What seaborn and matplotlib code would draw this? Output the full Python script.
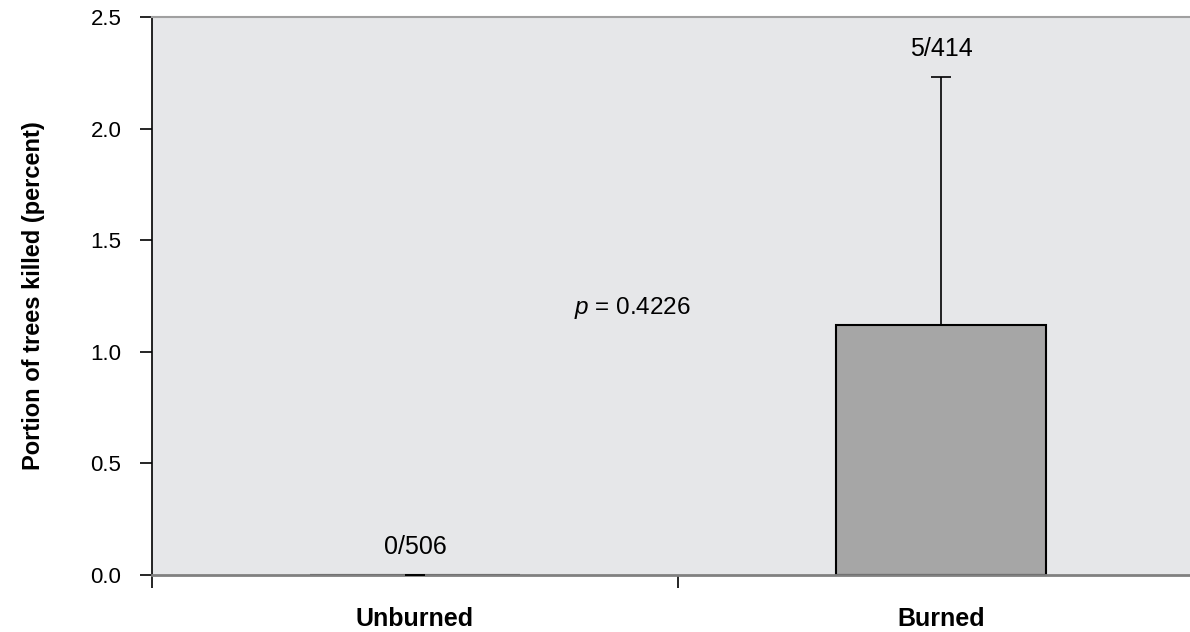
import matplotlib
matplotlib.use("Agg")
import matplotlib.pyplot as plt
import seaborn as sns
import pandas as pd

# Chart data
groups = ["Unburned", "Burned"]
pct_killed = [0.0, 1.12]
err_upper = [0.0, 1.11]
counts = ["0/506", "5/414"]
p_label = "$p$ = 0.4226"

sns.set_theme(style="ticks")
plt.rcParams['font.family'] = ['Liberation Sans', 'DejaVu Sans']
plt.rcParams['mathtext.fontset'] = 'custom'
plt.rcParams['mathtext.it'] = 'Liberation Sans:italic'
plt.rcParams['mathtext.rm'] = 'Liberation Sans'
plt.rcParams['text.color'] = 'black'
plt.rcParams['axes.labelcolor'] = 'black'
plt.rcParams['xtick.color'] = 'black'
plt.rcParams['ytick.color'] = 'black'

df = pd.DataFrame({'group': groups, 'pct': pct_killed})

fig = plt.figure(figsize=(11.9, 6.32), dpi=100)
ax = fig.add_axes([152 / 1190, 57 / 632, 1052 / 1190, 558 / 632])
ax.set_facecolor('#e6e7e9')

sns.barplot(data=df, x='group', y='pct', color='#a6a6a6', edgecolor='black',
            linewidth=1.5, width=0.4, saturation=1, errorbar=None, ax=ax)

# upper error bars only
ax.errorbar(range(len(groups)), pct_killed, yerr=[[0, 0], err_upper],
            fmt='none', ecolor='black', elinewidth=1.2, capsize=7, capthick=1.2,
            zorder=5)

# count labels above bars
for i, (v, e, c) in enumerate(zip(pct_killed, err_upper, counts)):
    ax.text(i, v + e + 0.125, c, ha='center', va='center', fontsize=18)

ax.text(0.4125, 1.196, p_label, ha='center', va='center', fontsize=17.5)

ax.set_xlim(-0.5, 1.5)
ax.set_ylim(0, 2.5)
ax.set_yticks([0, 0.5, 1.0, 1.5, 2.0, 2.5])
ax.set_yticklabels([f"{t:.1f}" for t in [0, 0.5, 1.0, 1.5, 2.0, 2.5]])
ax.set_xticks(range(len(groups)))
ax.set_xticklabels(groups, fontweight='bold')
ax.set_xticks([-0.5, 0.5, 1.5], minor=True)

ax.tick_params(axis='x', which='major', length=0, pad=23, labelsize=18)
ax.tick_params(axis='x', which='minor', length=9, width=1.2, color='black', direction='out')
ax.tick_params(axis='y', length=9, width=1.2, color='black', pad=13, labelsize=16)

ax.set_xlabel("")
ax.set_ylabel("Portion of trees killed (percent)", fontsize=17, fontweight='bold', labelpad=33)

ax.spines['left'].set_color('black')
ax.spines['left'].set_linewidth(1.2)
ax.spines['bottom'].set_color('#808080')
ax.spines['bottom'].set_linewidth(2)
ax.spines['top'].set_visible(True)
ax.spines['top'].set_color('#a0a0a0')
ax.spines['top'].set_linewidth(1.5)
ax.spines['right'].set_visible(False)

fig.savefig("out.png", dpi=100)
